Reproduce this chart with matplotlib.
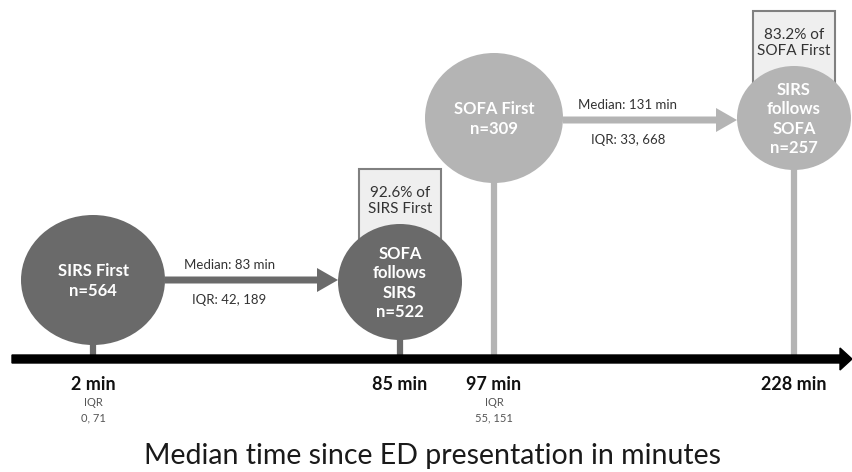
import matplotlib
matplotlib.use('Agg')
import matplotlib.pyplot as plt
from matplotlib.patches import Ellipse, Rectangle, FancyArrow

plt.rcParams['font.family'] = ['Lato', 'DejaVu Sans']

# Data
groups = ['SIRS First', 'SOFA\nfollows\nSIRS', 'SOFA First', 'SIRS\nfollows\nSOFA']
n_vals = [564, 522, 309, 257]
median_min = [2, 85, 97, 228]
iqr_low = [0, None, 55, None]
iqr_high = [71, None, 151, None]
trans_median = [83, 131]
trans_iqr = [(42, 189), (33, 668)]
pct_follow = [92.6, 83.2]
pct_of = ['SIRS First', 'SOFA First']

# Layout (pixels)
x_pos = [93, 400, 494, 794]
y_pos = [280, 282, 118, 118]
rx = [72, 62, 69, 57]
ry = [65, 58, 65, 52]
arrow_y = [280, 120]
dark = '#6a6a6a'
light = '#b4b4b4'
colors = [dark, dark, light, light]
axis_y = 359

fig = plt.figure(figsize=(8.52, 4.72), dpi=100)
ax = fig.add_axes([0, 0, 1, 1])
ax.set_xlim(0, 852)
ax.set_ylim(472, 0)
ax.axis('off')

# stems
for i in range(4):
    ax.plot([x_pos[i], x_pos[i]], [y_pos[i], axis_y], color=colors[i], lw=4.5,
            solid_capstyle='butt', zorder=1)

# time axis
ax.add_patch(FancyArrow(12, axis_y, 840, 0, width=8, head_width=22, head_length=12,
                        length_includes_head=True, color='black', zorder=2))

# "% of" boxes behind the follow-up circles
for k, i in enumerate([1, 3]):
    top = y_pos[i] - ry[i] - 55
    ax.add_patch(Rectangle((x_pos[i] - 41, top), 82, 75, facecolor='#efefef',
                           edgecolor='#808080', lw=1.5, zorder=2))
    ax.text(x_pos[i], top + 32, f'{pct_follow[k]}% of\n{pct_of[k]}', ha='center',
            va='center', fontsize=11, color='#333333', linespacing=1.15, zorder=2)

# circles
for i in range(4):
    ax.add_patch(Ellipse((x_pos[i], y_pos[i]), 2 * rx[i], 2 * ry[i],
                         facecolor=colors[i], edgecolor='none', zorder=3))
    ax.text(x_pos[i], y_pos[i] + 1, f'{groups[i]}\nn={n_vals[i]}', ha='center', va='center',
            fontsize=12, fontweight='bold', color='white', linespacing=1.25, zorder=4)

# transition arrows
for k, (a, b) in enumerate([(0, 1), (2, 3)]):
    y = arrow_y[k]
    x0 = x_pos[a] + rx[a]
    x1 = x_pos[b] - rx[b]
    ax.add_patch(FancyArrow(x0, y, x1 - x0, 0, width=7, head_width=24, head_length=21,
                            length_includes_head=True, color=colors[a], lw=0, zorder=2))
    xm = (x0 + x1) / 2 - 22
    ax.text(xm, y - 15, f'Median: {trans_median[k]} min', ha='center', va='center',
            fontsize=9.5, color='#333333')
    ax.text(xm, y + 20, f'IQR: {trans_iqr[k][0]}, {trans_iqr[k][1]}', ha='center',
            va='center', fontsize=9.5, color='#333333')

# time labels
for i in range(4):
    ax.text(x_pos[i], 384, f'{median_min[i]} min', ha='center', va='center',
            fontsize=13, fontweight='bold', color='#111111')
    if iqr_low[i] is not None:
        ax.text(x_pos[i], 402, 'IQR', ha='center', va='center', fontsize=8, color='#555555')
        ax.text(x_pos[i], 418, f'{iqr_low[i]}, {iqr_high[i]}', ha='center', va='center',
                fontsize=8, color='#555555')

ax.text(432, 456, 'Median time since ED presentation in minutes', ha='center', va='center',
        fontsize=20.5, color='#1a1a1a')

fig.savefig('out.png', dpi=100)
